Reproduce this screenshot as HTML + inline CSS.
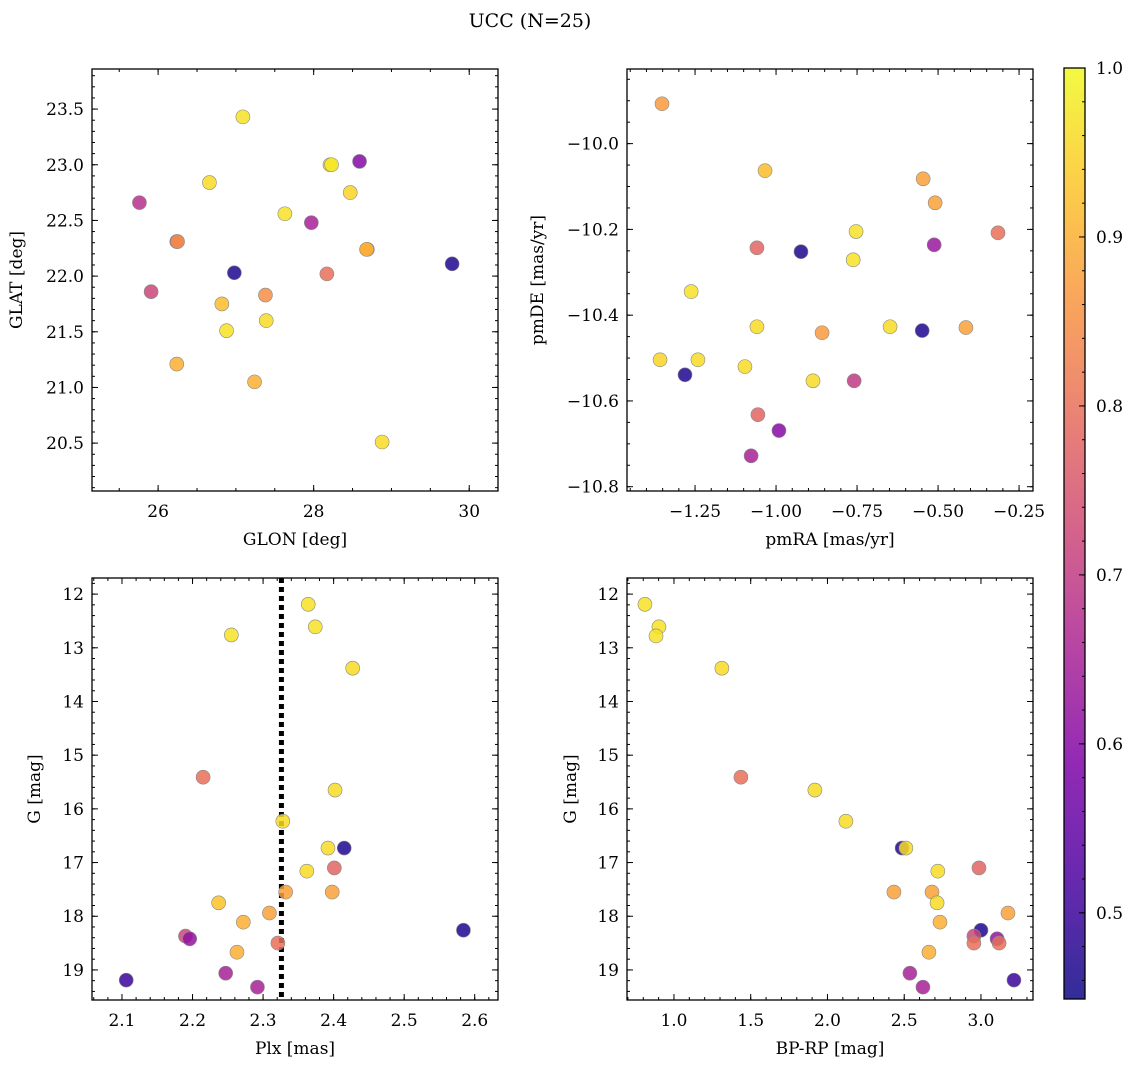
<!DOCTYPE html>
<html><head><meta charset="utf-8"><style>
body{margin:0;background:#fff;}
svg{display:block;font-family:"DejaVu Serif","Liberation Serif",serif;}
</style></head><body>
<svg id="fig" width="1136" height="1068" viewBox="0 0 1136 1068" xmlns="http://www.w3.org/2000/svg">
<text x="530" y="27" font-size="19" text-anchor="middle">UCC (N=25)</text>
</svg>
<script>
// ---- data ----
const glon=[27.09,28.59,28.21,28.23,26.66,25.76,27.63,28.47,27.97,26.24,26.25,28.69,28.68,26.98,29.78,28.17,25.91,27.38,26.82,27.39,26.88,26.24,27.24,28.88];
const glat=[23.43,23.03,23.00,23.00,22.84,22.66,22.56,22.75,22.48,22.31,22.31,22.24,22.24,22.03,22.11,22.02,21.86,21.83,21.75,21.60,21.51,21.21,21.05,20.51];
const probA=[0.97,0.60,0.95,0.98,0.96,0.68,0.97,0.95,0.65,0.75,0.85,0.87,0.90,0.47,0.47,0.80,0.72,0.85,0.92,0.96,0.97,0.90,0.90,0.96];
const pmra=[-1.352,-1.034,-0.546,-0.509,-1.059,-0.923,-0.753,-0.512,-0.315,-0.762,-1.262,-1.059,-0.858,-0.648,-0.549,-0.414,-1.358,-1.241,-1.096,-1.281,-0.886,-0.759,-1.056,-0.991,-1.077];
const pmde=[-9.907,-10.063,-10.082,-10.138,-10.243,-10.252,-10.205,-10.236,-10.208,-10.271,-10.345,-10.427,-10.441,-10.427,-10.436,-10.429,-10.504,-10.504,-10.520,-10.539,-10.553,-10.553,-10.632,-10.669,-10.728];
const probB=[0.87,0.92,0.88,0.88,0.78,0.47,0.97,0.63,0.80,0.97,0.97,0.96,0.87,0.96,0.47,0.88,0.95,0.96,0.96,0.47,0.96,0.70,0.78,0.60,0.65];
const plx=[2.364,2.374,2.255,2.427,2.215,2.402,2.328,2.392,2.415,2.401,2.362,2.332,2.398,2.237,2.309,2.272,2.584,2.190,2.196,2.321,2.263,2.247,2.106,2.292];
const gC=[12.19,12.61,12.76,13.38,15.41,15.65,16.23,16.73,16.73,17.10,17.16,17.55,17.55,17.75,17.94,18.11,18.26,18.37,18.42,18.50,18.67,19.06,19.19,19.32];
const probC=[0.97,0.97,0.97,0.96,0.80,0.96,0.96,0.96,0.47,0.78,0.96,0.88,0.88,0.93,0.88,0.90,0.47,0.72,0.62,0.80,0.90,0.65,0.50,0.65];
const bprp=[0.811,0.902,0.883,1.312,1.436,1.918,2.120,2.486,2.511,2.987,2.719,2.433,2.681,2.714,3.176,2.733,3.000,2.954,3.105,2.954,3.118,2.661,2.537,2.622,3.215];
const gD=[12.19,12.61,12.78,13.38,15.41,15.65,16.23,16.73,16.73,17.10,17.16,17.55,17.55,17.75,17.94,18.11,18.26,18.37,18.42,18.50,18.50,18.67,19.06,19.32,19.19];
const probD=[0.97,0.97,0.97,0.96,0.80,0.96,0.96,0.47,0.96,0.78,0.96,0.88,0.88,0.96,0.88,0.90,0.47,0.72,0.62,0.80,0.80,0.90,0.65,0.65,0.50];
const plxLine=2.326;
const cbTicks=[0.5,0.6,0.7,0.8,0.9,1.0];
const vmin=0.449, vmax=1.0;

const NS="http://www.w3.org/2000/svg";
const svg=document.getElementById('fig');
function el(tag,attrs,parent){const e=document.createElementNS(NS,tag);for(const k in attrs)e.setAttribute(k,attrs[k]);(parent||svg).appendChild(e);return e;}
const stops=[[0,[13,8,135]],[0.125,[75,3,161]],[0.25,[126,3,168]],[0.375,[170,35,149]],[0.5,[204,71,120]],[0.625,[230,108,92]],[0.75,[248,149,64]],[0.875,[253,196,39]],[1,[240,249,33]]];
function plasma(t){t=Math.max(0,Math.min(1,t));for(let i=1;i<stops.length;i++){if(t<=stops[i][0]){const a=stops[i-1],b=stops[i];const f=(t-a[0])/(b[0]-a[0]);const c=a[1].map((v,j)=>Math.round(v+(b[1][j]-v)*f));return `rgb(${c[0]},${c[1]},${c[2]})`;}}return 'rgb(240,249,33)';}
function col(p){return plasma((p-vmin)/(vmax-vmin));}
function fmt(v,d){let s=v.toFixed(d);return s.replace('-','\u2212');}

function panel(o){
  const g=el('g',{});
  
  
  const {L,R,T,B}=o;
  const sx=v=>L+(v-o.x0)/(o.x1-o.x0)*(R-L);
  const sy=o.inv?(v=>T+(v-o.y0)/(o.y1-o.y0)*(B-T)):(v=>B-(v-o.y0)/(o.y1-o.y0)*(B-T));
  const tg=el('g',{stroke:'#000','stroke-width':1},g);
  function ticksX(step,len,labels,d){const s=Math.ceil(Math.min(o.x0,o.x1)/step-1e-6);for(let k=s;k*step<=Math.max(o.x0,o.x1)+1e-9;k++){const v=k*step,x=sx(v);el('line',{x1:x,x2:x,y1:B,y2:B-len},tg);el('line',{x1:x,x2:x,y1:T,y2:T+len},tg);
    if(labels){const t=el('text',{x:x,y:B+26,'font-size':17,'text-anchor':'middle',stroke:'none',fill:'#000'},g);t.textContent=fmt(v,d);}}}
  function ticksY(step,len,labels,d){const lo=Math.min(o.y0,o.y1),hi=Math.max(o.y0,o.y1);const s=Math.ceil(lo/step-1e-6);for(let k=s;k*step<=hi+1e-9;k++){const v=k*step,y=sy(v);el('line',{x1:L,x2:L+len,y1:y,y2:y},tg);el('line',{x1:R,x2:R-len,y1:y,y2:y},tg);
    if(labels){const t=el('text',{x:L-8,y:y+6,'font-size':17,'text-anchor':'end',stroke:'none',fill:'#000'},g);t.textContent=fmt(v,d);}}}
  ticksX(o.xminor,3,false);ticksX(o.xmajor,6,true,o.xd);
  ticksY(o.yminor,3,false);ticksY(o.ymajor,6,true,o.yd);
  if(o.vline!==undefined){const l=el('line',{x1:sx(o.vline),x2:sx(o.vline),y1:T,y2:B,stroke:'#000','stroke-width':5,'stroke-dasharray':'5,4'},g);}
  const pg=el('g',{},g);
  for(let i=0;i<o.xs.length;i++){const c=el('circle',{cx:sx(o.xs[i]),cy:sy(o.ys[i]),r:7,fill:col(o.ps[i]),'fill-opacity':0.85,stroke:'#888','stroke-width':0.6},pg);
    
    }
  const fr=el('rect',{x:L,y:T,width:R-L,height:B-T,fill:'none',stroke:'#000','stroke-width':1.3},g);
  
  const xl=el('text',{x:(L+R)/2,y:B+54,'font-size':17,'text-anchor':'middle'},g);xl.textContent=o.xlabel;
  
  const yx=o.ylx,yy=(T+B)/2;const yl=el('text',{x:yx,y:yy,'font-size':17,'text-anchor':'middle',transform:`rotate(-90 ${yx} ${yy})`},g);yl.textContent=o.ylabel;
  
}
panel({name:'glon-glat-panel',L:92,R:498,T:69,B:491,x0:25.15,x1:30.37,y0:20.07,y1:23.86,xmajor:2,xminor:0.5,ymajor:0.5,yminor:0.1,xd:0,yd:1,xs:glon,ys:glat,ps:probA,xlabel:'GLON [deg]',ylabel:'GLAT [deg]',ylx:22});
panel({name:'pm-panel',L:627,R:1033,T:69,B:491,x0:-1.46,x1:-0.207,y0:-10.81,y1:-9.826,xmajor:0.25,xminor:0.05,ymajor:0.2,yminor:0.05,xd:2,yd:1,xs:pmra,ys:pmde,ps:probB,xlabel:'pmRA [mas/yr]',ylabel:'pmDE [mas/yr]',ylx:543});
panel({name:'plx-g-panel',L:92,R:498,T:578,B:1000,x0:2.0575,x1:2.633,y0:11.70,y1:19.56,inv:true,xmajor:0.1,xminor:0.02,ymajor:1,yminor:0.2,xd:1,yd:0,xs:plx,ys:gC,ps:probC,xlabel:'Plx [mas]',ylabel:'G [mag]',ylx:40,vline:plxLine});
panel({name:'cmd-panel',L:627,R:1033,T:578,B:1000,x0:0.694,x1:3.339,y0:11.70,y1:19.56,inv:true,xmajor:0.5,xminor:0.1,ymajor:1,yminor:0.2,xd:1,yd:0,xs:bprp,ys:gD,ps:probD,xlabel:'BP-RP [mag]',ylabel:'G [mag]',ylx:576});
// colorbar
const cb=el('g',{});
const defs=el('defs',{},cb);const lg=el('linearGradient',{id:'cbg',x1:0,y1:1,x2:0,y2:0},defs);
for(let i=0;i<=20;i++){el('stop',{offset:i/20,'stop-color':plasma(i/20),'stop-opacity':0.85},lg);}
const cT=68,cB=999,cL=1064,cR=1085;
el('rect',{x:cL,y:cT,width:cR-cL,height:cB-cT,fill:'url(#cbg)'},cb);
const cy=v=>cB-(v-vmin)/(vmax-vmin)*(cB-cT);
for(let v=0.46;v<=1.0001;v+=0.02){el('line',{x1:cR,x2:cR-3,y1:cy(v),y2:cy(v),stroke:'#000'},cb);}
cbTicks.forEach(v=>{el('line',{x1:cR,x2:cR-6,y1:cy(v),y2:cy(v),stroke:'#000'},cb);const t=el('text',{x:cR+11,y:cy(v)+6,'font-size':17},cb);t.textContent=v.toFixed(1);
  });
el('rect',{x:cL,y:cT,width:cR-cL,height:cB-cT,fill:'none',stroke:'#000','stroke-width':1.3},cb);
</script>
</body></html>
